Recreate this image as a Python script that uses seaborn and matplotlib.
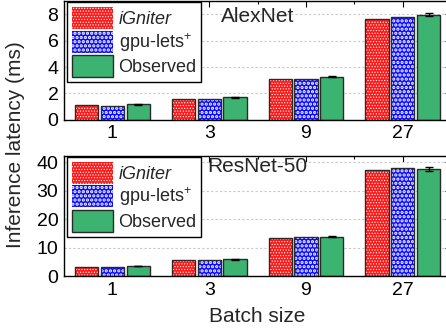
import numpy as np
import pandas as pd
import matplotlib
matplotlib.use('Agg')
import matplotlib.pyplot as plt
import seaborn as sns
from matplotlib.patches import Rectangle
from matplotlib.ticker import MultipleLocator, FixedLocator

# ============================================================
# DATA
# ============================================================

batch_sizes = ['1', '3', '9', '27']
methods     = ['iGniter', 'gpu-lets$^{+}$', 'Observed']

alexnet_igniter  = [1.10, 1.61, 3.07, 7.67]
alexnet_gpulets  = [1.06, 1.61, 3.12, 7.80]
alexnet_observed = [1.17, 1.71, 3.27, 7.96]
alexnet_err      = [0.03, 0.03, 0.04, 0.10]

resnet_igniter  = [3.1, 5.7, 13.4, 37.3]
resnet_gpulets  = [3.1, 5.6, 13.6, 37.9]
resnet_observed = [3.5, 5.9, 13.8, 37.6]
resnet_err      = [0.1, 0.15, 0.2, 0.7]

colors  = ['#ff1a1a', '#0a0aff', '#3cb371']
hatches = ['......', '....', None]
hatch_lw = [0.5, 1.6, None]

# ============================================================
# STYLE
# ============================================================

sns.set_theme(style='white')
plt.rcParams['font.family'] = ['Liberation Sans', 'DejaVu Sans']
plt.rcParams['mathtext.fontset'] = 'custom'
plt.rcParams['mathtext.rm'] = 'Liberation Sans'
plt.rcParams['hatch.linewidth'] = 0.5


def long_table(vals):
    rows = []
    for m, series in zip(methods, vals):
        for b, v in zip(batch_sizes, series):
            rows.append({'batch': b, 'method': m, 'latency': v})
    return pd.DataFrame(rows)


def style_hatch(patch, hatch, lw):
    patch.set_hatch(hatch)
    patch.set_edgecolor('white')
    patch.set_linewidth(0)
    if hasattr(patch, 'set_hatch_linewidth'):
        patch.set_hatch_linewidth(lw)


def draw_panel(ax, vals, err, ylim, major, minor, title, title_y):
    df = long_table(vals)
    sns.barplot(data=df, x='batch', y='latency', hue='method',
                order=batch_sizes, hue_order=methods,
                palette=dict(zip(methods, colors)), gap=0.1,
                edgecolor='#2a2a2a', linewidth=1.0, errorbar=None,
                saturation=1, ax=ax)

    # hatch red/blue bars with white pattern, then redraw dark outline
    for cont, hatch, lw in zip(ax.containers, hatches, hatch_lw):
        for bar in cont:
            if hatch:
                style_hatch(bar, hatch, lw)
                ax.add_patch(Rectangle((bar.get_x(), bar.get_y()),
                                       bar.get_width(), bar.get_height(),
                                       fill=False, ec='#2a2a2a', lw=1.0,
                                       zorder=bar.get_zorder() + 0.1))

    # error bars on the observed bars
    obs = ax.containers[2]
    xs = [b.get_x() + b.get_width() / 2 for b in obs]
    ax.errorbar(xs, vals[2], yerr=err, fmt='none', ecolor='black',
                elinewidth=1, capsize=3, capthick=1, zorder=5)

    ax.set_xlim(-0.5, 3.5)
    ax.set_ylim(*ylim)
    ax.yaxis.set_major_locator(MultipleLocator(major))
    ax.yaxis.set_minor_locator(MultipleLocator(minor))
    ax.xaxis.set_minor_locator(FixedLocator([0.5, 1.5, 2.5]))
    ax.grid(axis='y', which='major', ls=(0, (2, 2)), color='#c8c8c8', lw=0.8)
    ax.set_axisbelow(True)
    ax.tick_params(which='both', direction='in', top=True, right=True,
                   labelsize=14, colors='black', width=0.8)
    ax.tick_params(which='major', length=4, pad=4)
    ax.tick_params(which='minor', length=2.5)
    for s in ax.spines.values():
        s.set_color('black')
        s.set_linewidth(1.0)
    ax.set_xlabel('')
    ax.set_ylabel('')

    leg = ax.legend(loc='upper left', bbox_to_anchor=(0.008, 0.99),
                    fontsize=13, frameon=True, fancybox=False,
                    edgecolor='black', framealpha=1,
                    handlelength=2.3, handleheight=1.5,
                    labelspacing=0.1, borderpad=0.25, handletextpad=0.3,
                    borderaxespad=0.0)
    leg.get_frame().set_linewidth(1.0)
    leg.get_texts()[0].set_style('italic')
    for h, hatch, lw in zip(leg.legend_handles, hatches, hatch_lw):
        if hatch:
            style_hatch(h, hatch, lw)
    ax.text(0.5, title_y, title, transform=ax.transAxes, fontsize=15,
            ha='center', va='center')


fig = plt.figure(figsize=(4.46, 3.33), dpi=100)
ax1 = fig.add_axes([0.1435, 0.640, 0.868, 0.357])
ax2 = fig.add_axes([0.1435, 0.171, 0.868, 0.361])

draw_panel(ax1, [alexnet_igniter, alexnet_gpulets, alexnet_observed],
           alexnet_err, (0, 9.0), 2, 1, 'AlexNet', 0.87)
draw_panel(ax2, [resnet_igniter, resnet_gpulets, resnet_observed],
           resnet_err, (0, 42.2), 10, 5, 'ResNet-50', 0.91)

ax2.set_xlabel('Batch size', fontsize=15, labelpad=6)
fig.text(0.035, 0.565, 'Inference latency (ms)', rotation=90,
         fontsize=15, ha='center', va='center')

fig.savefig('out.png', dpi=100)
